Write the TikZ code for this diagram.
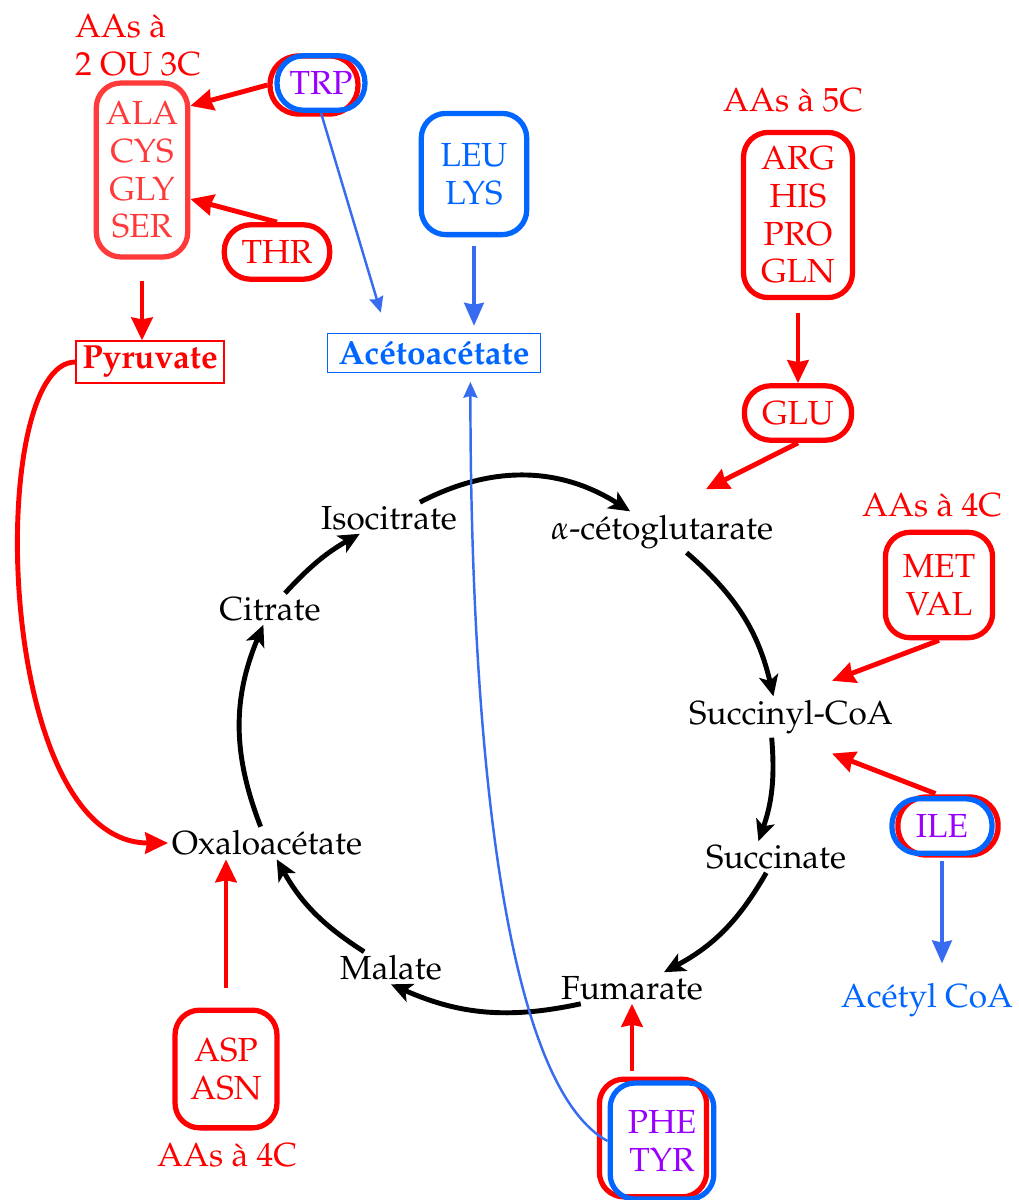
\documentclass[tikz,border=0pt]{standalone}
\usepackage[T1]{fontenc}
\usepackage{mathpazo}
\usetikzlibrary{arrows.meta, positioning, calc}
\definecolor{aared}{RGB}{255, 0, 0}
\definecolor{alared}{RGB}{255, 58, 58}
\definecolor{ketoblue}{RGB}{0, 102, 255}
\definecolor{linkblue}{RGB}{56, 108, 240}
\definecolor{mixpurple}{RGB}{153, 0, 255}

\begin{document}
\begin{tikzpicture}[x=0.02cm, y=0.02cm,
    every node/.style={font=\fontsize{19}{21.5}\selectfont, inner sep=2pt},
    aabox/.style={draw=#1, line width=3pt, rounded corners=14pt, align=center, text=#1, inner sep=3pt},
    pill/.style={aabox=#1, rounded corners=15pt, minimum height=31pt},
    endbox/.style={draw=#1, line width=0.9pt, text=#1, font=\fontsize{19}{21.5}\selectfont\bfseries, inner sep=3pt, minimum height=22pt},
    metab/.style={text=black},
    grp/.style={text=aared, align=left},
    rarr/.style={-{Stealth[length=13pt, width=12pt, inset=1pt]}, line width=2.8pt, aared},
    barr/.style={-{Stealth[length=13pt, width=11pt, inset=1pt]}, line width=2.6pt, linkblue},
    thinb/.style={-{Stealth[length=9pt, width=8pt, inset=1pt]}, line width=1.4pt, linkblue},
    cyc/.style={-{Stealth[length=12pt, width=11pt, inset=3pt]}, line width=2.8pt, black}
]
    \useasboundingbox (0,0) rectangle (1018,-1200);

    % amino acid groups
    \node[grp] (aa23) at (138,-45) {AAs à\\2 OU 3C};
    \node[aabox=alared, minimum width=52pt, minimum height=99pt] (ala) at (142,-170) {ALA\\CYS\\GLY\\SER};
    \node[pill=aared, minimum width=50pt, minimum height=33pt, rounded corners=16pt] (trpr) at (314,-85) {\phantom{TRP}};
    \node[pill=ketoblue, minimum width=50pt, minimum height=31pt, text=mixpurple] (trp) at (321,-83) {TRP};
    \node[pill=aared, minimum width=60pt] (thr) at (277,-252) {THR};
    \node[endbox=aared, minimum width=84pt] (pyr) at (150,-362) {Pyruvate};
    \node[endbox=ketoblue, minimum width=121pt] (aceto) at (434,-353) {Acétoacétate};
    \node[aabox=ketoblue, minimum width=60pt, minimum height=69pt] (leu) at (474,-174) {LEU\\LYS};

    \node[grp] (aa5) at (793,-100) {AAs à 5C};
    \node[aabox=aared, minimum width=62pt, minimum height=94pt] (arg) at (798,-215) {ARG\\HIS\\PRO\\GLN};
    \node[pill=aared, minimum width=61pt] (glu) at (798,-413) {GLU};
    \node[grp] (aa4a) at (932,-505) {AAs à 4C};
    \node[aabox=aared, minimum width=61pt, minimum height=60pt] (met) at (939,-585) {MET\\VAL};
    \node[pill=aared, minimum width=57pt, minimum height=33pt, rounded corners=16pt] (iler) at (948,-826) {\phantom{ILE}};
    \node[pill=ketoblue, minimum width=57pt, minimum height=31pt, text=mixpurple] (ile) at (942,-826) {ILE};
    \node[text=ketoblue] (acoa) at (927,-1000) {Acétyl CoA};

    \node[aabox=aared, minimum width=58pt, minimum height=67pt] (asp) at (226,-1069) {ASP\\ASN};
    \node[grp] (aa4b) at (227,-1155) {AAs à 4C};
    \node[aabox=aared, minimum width=61pt, minimum height=67pt] (pher) at (653,-1138) {\phantom{PHE}\\\phantom{TYR}};
    \node[aabox=ketoblue, minimum width=59pt, minimum height=66pt, text=mixpurple] (phe) at (662,-1141) {PHE\\TYR};

    % Krebs cycle
    \node[metab] (iso) at (389,-518) {Isocitrate};
    \node[metab] (ako) at (662,-532) {$\alpha$-cétoglutarate};
    \node[metab] (succoa) at (791,-717) {Succinyl-CoA};
    \node[metab] (succ) at (776,-857) {Succinate};
    \node[metab] (fum) at (632,-988) {Fumarate};
    \node[metab] (mal) at (391,-968) {Malate};
    \node[metab] (oxa) at (267,-843) {Oxaloacétate};
    \node[metab] (cit) at (270,-609) {Citrate};

    \draw[cyc] (iso) to[bend left=30] (ako);
    \draw[cyc] ([xshift=14pt]ako.south) to[bend left=18] ([xshift=-10pt]succoa.north);
    \draw[cyc] ([xshift=-11pt]succoa.south) to[bend left=12] ([xshift=-10pt]succ.north);
    \draw[cyc] (succ) to[bend left=16] (fum);
    \draw[cyc] (fum) to[bend left=18] (mal.south);
    \draw[cyc] (mal) to[bend left=14] (oxa);
    \draw[cyc] (oxa) to[bend left=22] (cit);
    \draw[cyc] (cit) to[bend left=9] (iso);

    % feeding arrows
    \draw[rarr] (trpr.west) -- (ala.53);
    \draw[rarr] (thr.north) -- (ala.-31);
    \draw[rarr, shorten <=12pt] (ala.south) -- (ala.south |- pyr.north);
    \draw[rarr] (pyr.west) .. controls +(-90,0) and +(-175,0) .. (oxa.west);
    \draw[rarr, shorten <=7pt] (arg.south) -- (glu.north);
    \draw[rarr, shorten >=28pt] (glu.south) -- (ako.north);
    \draw[rarr, shorten >=25pt] (met.south) -- (succoa.north);
    \draw[rarr, shorten <=4pt, shorten >=25pt] (ile.north) -- (succoa.south);
    \draw[rarr, shorten <=11pt] (asp.north) -- (asp.north |- oxa.south);
    \draw[rarr, shorten <=3pt] (fum.south |- pher.north) -- (fum.south);

    \draw[barr, shorten <=5pt, shorten >=4pt] (leu.south) -- (leu.south |- aceto.north);
    \draw[barr, shorten <=3pt, shorten >=9pt] (ile.south) -- (ile.south |- acoa.north);
    \draw[thinb, shorten >=12pt] (trp.south) -- ($(aceto.north west)!0.28!(aceto.north east)$);
    \draw[thinb, shorten >=5pt] (phe.west) .. controls +(-110,60) and +(0,-330) .. ($(aceto.south west)!0.67!(aceto.south east)$);
\end{tikzpicture}
\end{document}
